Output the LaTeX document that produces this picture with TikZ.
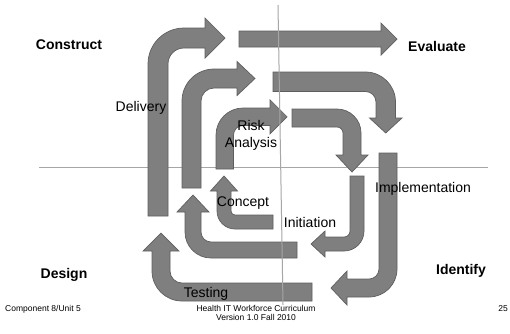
\documentclass[tikz,border=0pt]{standalone}
\usepackage{fontspec}
\setmainfont{Liberation Sans}
\definecolor{arrowgray}{HTML}{7F7F7F}
\definecolor{edgegray}{HTML}{5E5E5E}
\definecolor{axisgray}{HTML}{A6A6A6}
\begin{document}
\begin{tikzpicture}[x=1pt,y=1pt,yscale=-1,
  bendarrow/.style={fill=arrowgray,draw=edgegray,line width=0.7pt,line join=miter},
  axisline/.style={draw=axisgray,line width=1pt},
  quad/.style={font=\fontsize{14}{16}\selectfont\bfseries,inner sep=0pt},
  lbl/.style={font=\fontsize{14}{17}\selectfont,inner sep=0pt},
  foot/.style={font=\fontsize{8.5}{8.5}\selectfont,inner sep=0pt}]
\fill[white] (0,0) rectangle (510,333);
\useasboundingbox (0,0) rectangle (510,333);

% horizontal divider, behind the arrows
\coordinate (hl) at (39,167);
\coordinate (hr) at (488,167);
\draw[axisline] (hl) -- (hr);

% outer loop: up and right, then straight on
\draw[bendarrow] (148,216) -- (148,64) arc[start angle=180,end angle=270,radius=36]
  -- (205,28) -- (205,18) -- (225,38) -- (205,58) -- (205,48) -- (184,48)
  arc[start angle=270,end angle=180,radius=16] -- (168,216) -- cycle;
\draw[bendarrow] (239,31) -- (381,31) -- (381,23) -- (397,39) -- (381,55)
  -- (381,47) -- (239,47) -- cycle;

% middle loop
\draw[bendarrow] (182,188) -- (182,101) arc[start angle=180,end angle=270,radius=32]
  -- (237,69) -- (237,61.5) -- (255,78.5) -- (237,95.5) -- (237,88) -- (214,88)
  arc[start angle=270,end angle=180,radius=13] -- (201,188) -- cycle;
\draw[bendarrow] (273,72) -- (365.5,72) arc[start angle=270,end angle=360,radius=30]
  -- (395.5,118) -- (402,118) -- (385.75,133) -- (369.5,118) -- (376,118) -- (376,102)
  arc[start angle=0,end angle=-90,radius=10.5] -- (273,91.5) -- cycle;

% inner loop
\draw[bendarrow] (216,169) -- (216,135) arc[start angle=180,end angle=270,radius=27]
  -- (270,108) -- (270,99.75) -- (287,116.75) -- (270,133.75) -- (270,125.5) -- (243,125.5)
  arc[start angle=270,end angle=180,radius=9.5] -- (233.5,169) -- cycle;
\draw[bendarrow] (292,109) -- (337,109) arc[start angle=270,end angle=360,radius=24]
  -- (361,155) -- (368,155) -- (352,172) -- (336,155) -- (343,155) -- (343,133)
  arc[start angle=0,end angle=-90,radius=6] -- (292,127) -- cycle;

% right side: down and left
\draw[bendarrow] (379,153) -- (397,153) -- (397,269) arc[start angle=0,end angle=90,radius=28]
  -- (347,297) -- (347,305) -- (331,288) -- (347,271) -- (347,279) -- (369,279)
  arc[start angle=90,end angle=0,radius=10] -- cycle;
\draw[bendarrow] (350,176) -- (364,176) -- (364,231) arc[start angle=0,end angle=90,radius=20]
  -- (325,251) -- (325,257) -- (311,244) -- (325,231) -- (325,237) -- (344,237)
  arc[start angle=90,end angle=0,radius=6] -- cycle;

% left side: left and up
\draw[bendarrow] (273,215) -- (273,229) -- (235,229) arc[start angle=90,end angle=180,radius=18]
  -- (217,191) -- (210.5,191) -- (224,176) -- (237.5,191) -- (231,191) -- (231,211)
  arc[start angle=180,end angle=90,radius=4] -- cycle;
\draw[bendarrow] (297,242) -- (297,258) -- (211,258) arc[start angle=90,end angle=180,radius=26]
  -- (185,212) -- (177,212) -- (193,195) -- (209,212) -- (201,212) -- (201,232)
  arc[start angle=180,end angle=90,radius=10] -- cycle;
\draw[bendarrow] (312,283) -- (312,301) -- (182,301) arc[start angle=90,end angle=180,radius=30]
  -- (152,251) -- (143,251) -- (161,233) -- (179,251) -- (170,251) -- (170,271)
  arc[start angle=180,end angle=90,radius=12] -- cycle;

% vertical divider, over the arrows
\coordinate (vt) at (278,5);
\coordinate (vb) at (283,305);
\draw[axisline] (vt) -- (vb);

% quadrant names
\node[quad] (construct) at (69,45) {Construct};
\node[quad] (evaluate) at (437,46) {Evaluate};
\node[quad] (design) at (64,275) {Design};
\node[quad] (identify) at (461,271) {Identify};

% phase labels
\node[lbl] (delivery) at (141,108) {Delivery};
\node[lbl,align=center] (risk) at (251,135.5) {Risk\\Analysis};
\node[lbl] (concept) at (243,203) {Concept};
\node[lbl] (initiation) at (310,222) {Initiation};
\node[lbl] (impl) at (423,189) {Implementation};
\node[lbl] (testing) at (206,294) {Testing};

% footer
\node[foot,anchor=west] (comp) at (5,309) {Component 8/Unit 5};
\node[foot,align=center] (curr) at (256,313) {Health IT Workforce Curriculum\\Version 1.0 Fall 2010};
\node[foot] (page) at (503,309) {25};
\end{tikzpicture}
\end{document}
